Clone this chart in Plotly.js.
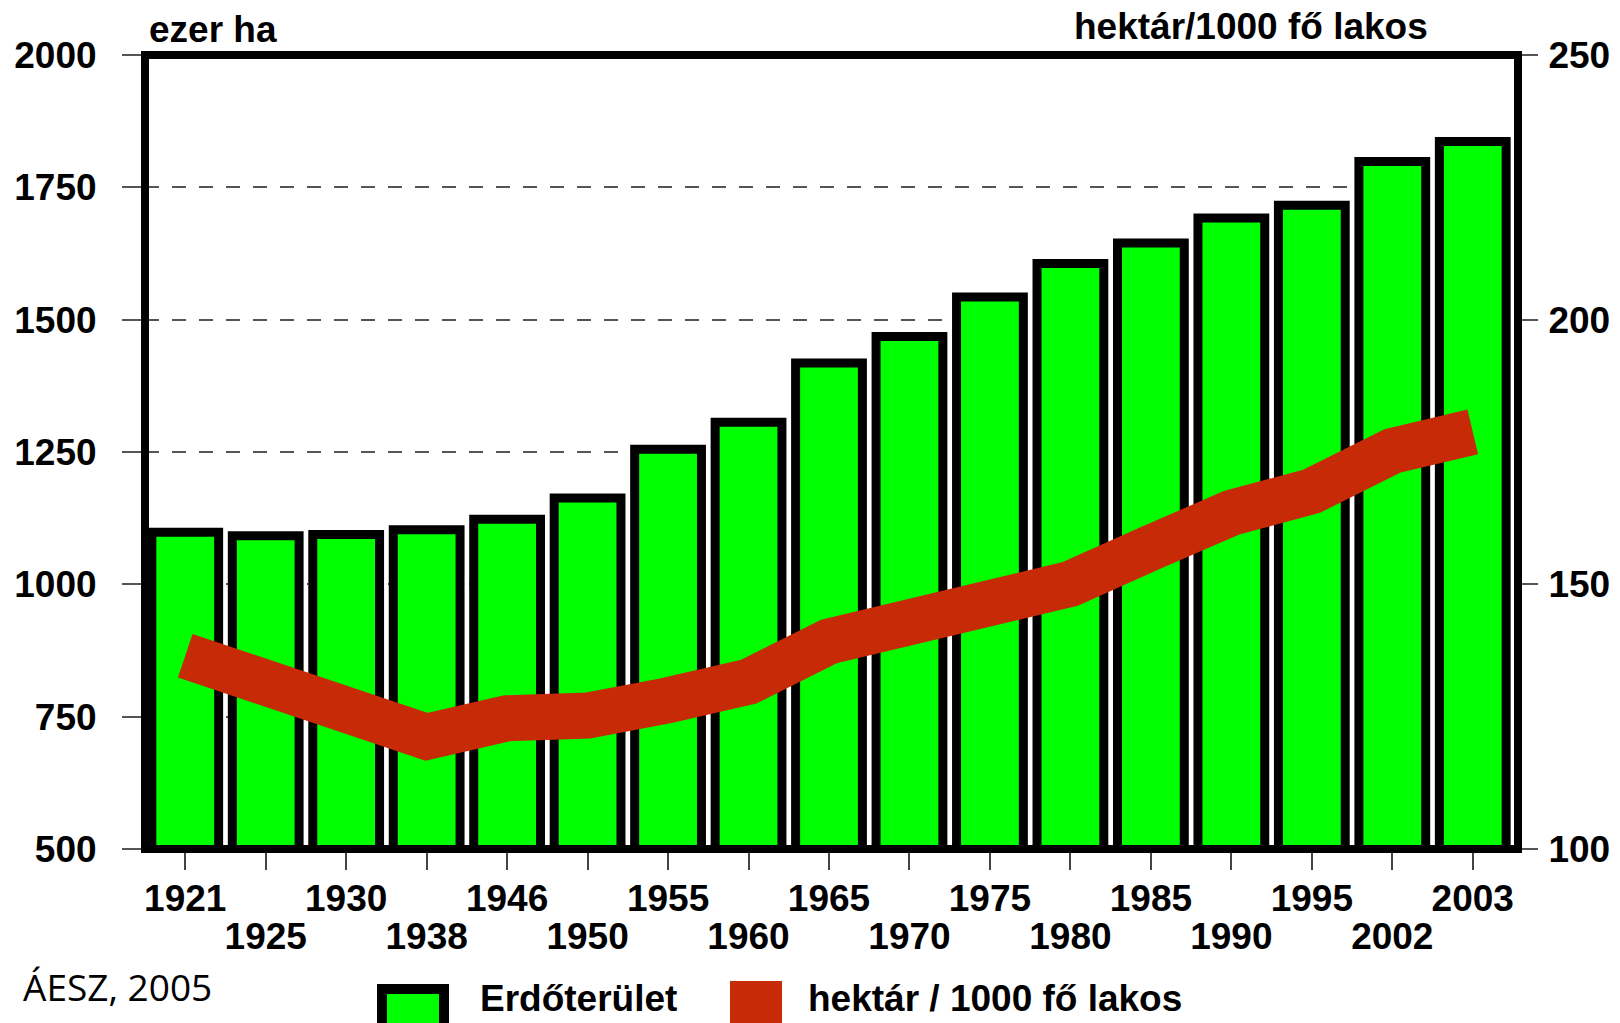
<!DOCTYPE html>
<html><head><meta charset="utf-8">
<script src="https://cdn.plot.ly/plotly-3.0.1.min.js"></script>
<style>html,body{margin:0;padding:0;background:#fff}#chart{width:1620px;height:1023px}</style>
</head><body><div id="chart"></div>
<script>
// ---- data ----
const years = ['1921','1925','1930','1938','1946','1950','1955','1960','1965','1970','1975','1980','1985','1990','1995','2002','2003'];
const forestArea = [1098.5,1092,1094,1103,1123,1163,1255,1306,1418,1468,1543,1606,1645,1692,1716,1799,1836.4];
const perThousand = [136.5,131.0,125.9,121.2,124.7,125.2,128.1,131.6,139.2,142.2,146.4,150.1,156.9,163.5,167.6,175.2,178.8];
const leftTicks = [500,750,1000,1250,1500,1750,2000];
const rightTicks = [100,150,200,250];
const leftUnit = 'ezer ha';
const rightUnit = 'hektár/1000 fő lakos';
const seriesNames = ['Erdőterület','hektár / 1000 fő lakos'];
const sourceNote = 'ÁESZ, 2005';

// ---- layout helpers ----
const W=1620, H=1023, M={l:145,r:107,t:55,b:174};
const pw=W-M.l-M.r, ph=H-M.t-M.b;
const px=x=>(x-M.l)/pw;
const py=y=>(H-M.b-y)/ph;
const FAM='Liberation Sans, Arial, sans-serif';
const FS=37;
const bold=(s)=>({family:FAM,size:s,weight:'bold',color:'#000'});
const GREEN='#00ff00', RED='#c62a06';

const traces=[
 {type:'bar', name:seriesNames[0], x:years, y:forestArea, xaxis:'x', yaxis:'y',
  marker:{color:GREEN, line:{color:'#000', width:9}}, hoverinfo:'skip'},
 {type:'scatter', mode:'lines', name:seriesNames[1], x:years, y:perThousand, xaxis:'x2', yaxis:'y2',
  line:{color:RED, width:46}, hoverinfo:'skip'}
];

const layout={
 width:W, height:H, margin:M, paper_bgcolor:'#fff', plot_bgcolor:'#fff',
 showlegend:false, bargap:0.17, font:bold(FS),
 xaxis:{type:'category', categoryarray:years, range:[-0.5,years.length-0.5],
  showline:false,
  ticks:'outside', ticklen:20, tickwidth:2, tickcolor:'#444',
  tickvals:years, ticktext:years.map((y,i)=>i%2===0?y:''),
  tickfont:bold(FS), ticklabelstandoff:-3, showgrid:false, zeroline:false},
 xaxis2:{type:'category', categoryarray:years, range:[-0.5,years.length-0.5],
  overlaying:'x', anchor:'y2', side:'bottom',
  showline:false, ticks:'', tickvals:years.filter((y,i)=>i%2===1), ticktext:years.filter((y,i)=>i%2===1),
  tickfont:bold(FS), ticklabelstandoff:62, showgrid:false, zeroline:false},
 yaxis:{range:[500,2000], tickvals:leftTicks, ticktext:leftTicks.map(String),
  ticks:'outside', ticklen:22, tickwidth:2, tickcolor:'#555',
  showline:false,
  showgrid:true, gridcolor:'#555', gridwidth:2, griddash:'14px,13px', zeroline:false,
  tickfont:bold(FS), ticklabelstandoff:18},
 yaxis2:{range:[100,250], overlaying:'y', side:'right', anchor:'x2',
  tickvals:rightTicks, ticktext:rightTicks.map(String),
  ticks:'outside', ticklen:24, tickwidth:2, tickcolor:'#555',
  showline:false, showgrid:false, zeroline:false, tickfont:bold(FS), ticklabelstandoff:3},
 shapes:[
  {type:'rect', xref:'paper', yref:'paper', x0:px(145), x1:px(1518), y0:0, y1:1,
   fillcolor:'rgba(0,0,0,0)', line:{color:'#000', width:8}, layer:'above'},
  {type:'rect', xref:'paper', yref:'paper', x0:px(382), x1:px(444), y0:py(989), y1:py(1040),
   fillcolor:GREEN, line:{color:'#000', width:10}},
  {type:'rect', xref:'paper', yref:'paper', x0:px(730), x1:px(782), y0:py(981), y1:py(1040),
   fillcolor:RED, line:{width:0}}
 ],
 annotations:[
  {text:leftUnit, xref:'paper', yref:'paper', x:px(147), y:py(29), xanchor:'left', yanchor:'middle', showarrow:false, font:bold(FS)},
  {text:rightUnit, xref:'paper', yref:'paper', x:px(1072), y:py(26), xanchor:'left', yanchor:'middle', showarrow:false, font:bold(FS)},
  {text:forestArea[0].toString().replace('.',',')+' ha', xref:'x', yref:'y', x:years[0], y:forestArea[0],
   xanchor:'left', xshift:-32, yanchor:'middle', yshift:26, showarrow:false, font:bold(FS)},
  {text:forestArea[forestArea.length-1].toString().replace('.',',')+' ha', xref:'x', yref:'y', x:years[years.length-1], y:forestArea[forestArea.length-1],
   xanchor:'right', xshift:-2, yanchor:'middle', yshift:30, showarrow:false, font:bold(FS)},
  {text:sourceNote, xref:'paper', yref:'paper', x:px(21), y:py(986), xanchor:'left', yanchor:'middle', showarrow:false,
   font:{family:'Open Sans, Noto Sans, sans-serif', size:37, weight:'normal', color:'#000'}},
  {text:seriesNames[0], xref:'paper', yref:'paper', x:px(478), y:py(998), xanchor:'left', yanchor:'middle', showarrow:false, font:bold(FS)},
  {text:seriesNames[1], xref:'paper', yref:'paper', x:px(806), y:py(998), xanchor:'left', yanchor:'middle', showarrow:false, font:bold(FS)}
 ]
};
Plotly.newPlot('chart', traces, layout, {displayModeBar:false, staticPlot:true});
</script></body></html>
